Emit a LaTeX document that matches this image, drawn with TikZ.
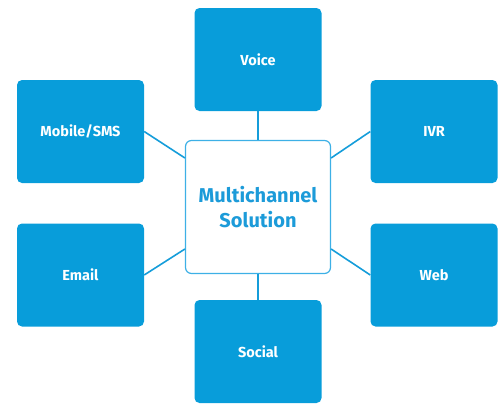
\documentclass[tikz,border=0pt]{standalone}
\usepackage{fontspec}
\setmainfont{Fira Sans}
\definecolor{boxblue}{HTML}{089DDA}
\definecolor{rimblue}{HTML}{3DB0E6}
\definecolor{textblue}{HTML}{1C9BD9}
\definecolor{lineblue}{HTML}{159DDA}
\begin{document}
\begin{tikzpicture}[x=1pt,y=-1pt,
  chan/.style={fill=boxblue,draw=none,rounded corners=5pt,text=white,
    font=\fontsize{14.5}{17}\selectfont\bfseries,minimum width=127pt,minimum height=103pt,inner sep=0pt},
  hub/.style={fill=white,draw=rimblue,line width=1.2pt,rounded corners=6pt,text=textblue,
    font=\fontsize{20}{25}\selectfont\bfseries,align=center,minimum width=145pt,minimum height=133pt,inner sep=0pt},
  link/.style={draw=lineblue,line width=1.6pt}]
\useasboundingbox (0,0) rectangle (503,405);
\node[hub] (c) at (258,207) {Multichannel\\Solution};
\node[chan] (v) at (258,59.5) {Voice};
\node[chan] (m) at (80.5,131.5) {Mobile/SMS};
\node[chan] (i) at (434,131.5) {IVR};
\node[chan] (e) at (80.5,275) {Email};
\node[chan] (w) at (434,275) {Web};
\node[chan] (s) at (258,351.5) {Social};
\draw[link] (v.south) -- (c.north);
\draw[link] (s.north) -- (c.south);
\draw[link] (m.east) -- ([yshift=49pt]c.west);
\draw[link] (i.west) -- ([yshift=49pt]c.east);
\draw[link] (e.east) -- ([yshift=-42pt]c.west);
\draw[link] (w.west) -- ([yshift=-42pt]c.east);
\end{tikzpicture}
\end{document}
